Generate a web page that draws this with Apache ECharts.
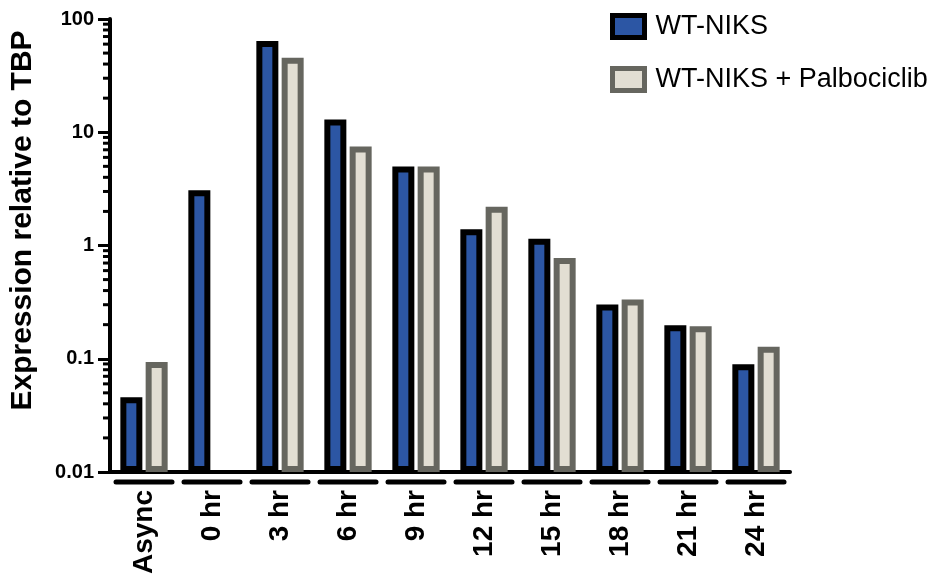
<!DOCTYPE html>
<html>
<head>
<meta charset="utf-8">
<script src="https://cdn.jsdelivr.net/npm/echarts@6/dist/echarts.min.js"></script>
<style>
  html, body { margin: 0; padding: 0; background: #fff; }
  #chart { width: 941px; height: 579px; }
</style>
</head>
<body>
<div id="chart"></div>
<script>
// categories + values (log scale)
var categories = ['Async', '0 hr', '3 hr', '6 hr', '9 hr', '12 hr', '15 hr', '18 hr', '21 hr', '24 hr'];
var wtNiks = [0.043, 2.9, 60, 12.2, 4.7, 1.31, 1.08, 0.284, 0.186, 0.084];
var wtPalbo = [0.088, null, 42.7, 7.05, 4.7, 2.07, 0.73, 0.314, 0.182, 0.12];
var minorTickValues = [];
[0.01, 0.1, 1, 10].forEach(function (d) {
  for (var k = 2; k <= 9; k++) minorTickValues.push(+(k * d).toPrecision(2));
});

var FONT = '"Liberation Sans", Arial, sans-serif';
var BLUE = '#2c56a4', BEIGE = '#e2ded3', GREY = '#66665f';
var chart = echarts.init(document.getElementById('chart'));

// bars on a log axis start at 1 in echarts, so draw them from the axis min
function barSeries(name, values, offset, fill, stroke) {
  return {
    name: name,
    type: 'custom',
    itemStyle: { color: fill, borderColor: stroke, borderWidth: 6 },
    data: values.map(function (v, i) { return v == null ? [i, '-'] : [i, v]; }),
    renderItem: function (params, api) {
      var v = api.value(1);
      if (v == null || isNaN(v)) return null;
      var top = api.coord([api.value(0), v]);
      var base = api.coord([api.value(0), 0.01]);
      var w = 16;
      return {
        type: 'rect',
        shape: { x: top[0] + offset - w / 2, y: top[1], width: w, height: base[1] - top[1] - 3 },
        style: { fill: fill, stroke: stroke, lineWidth: 6 }
      };
    }
  };
}

var option = {
  animation: false,
  textStyle: { fontFamily: FONT },
  grid: { left: 106, top: 19, width: 684, height: 453, containLabel: false },
  legend: {
    data: [
      { name: 'WT-NIKS', itemStyle: { color: BLUE, borderColor: '#000', borderWidth: 5 } },
      { name: 'WT-NIKS + Palbociclib', itemStyle: { color: BEIGE, borderColor: GREY, borderWidth: 5 } }
    ],
    icon: 'rect',
    orient: 'vertical',
    left: 605,
    top: 8,
    itemWidth: 32,
    itemHeight: 22,
    itemGap: 26,
    textStyle: { fontSize: 27, color: '#000', fontFamily: FONT, padding: [0, 0, 0, 6] }
  },
  xAxis: {
    type: 'category',
    data: categories,
    axisLine: { lineStyle: { color: '#000', width: 4 } },
    axisTick: { show: false },
    axisLabel: {
      rotate: 90,
      margin: 18,
      fontSize: 28,
      fontWeight: 'bold',
      color: '#000',
      fontFamily: FONT
    }
  },
  yAxis: {
    type: 'log',
    logBase: 10,
    min: 0.01,
    max: 100,
    name: 'Expression relative to TBP',
    nameLocation: 'middle',
    nameGap: 72,
    nameTextStyle: {
      fontSize: 30, fontWeight: 'bold', color: '#000', fontFamily: FONT,
      padding: [0, 0, 0, 50]
    },
    axisLine: { show: true, lineStyle: { color: '#000', width: 4 } },
    axisTick: { show: true, length: 12, lineStyle: { color: '#000', width: 3 } },
    axisLabel: {
      margin: 16,
      fontSize: 20,
      fontWeight: 'bold',
      color: '#000',
      fontFamily: FONT
    },
    splitLine: { show: false }
  },
  series: [
    barSeries('WT-NIKS', wtNiks, -12.65, BLUE, '#000'),
    barSeries('WT-NIKS + Palbociclib', wtPalbo, 12.65, BEIGE, GREY),
    {
      // minor log ticks (2..9 per decade)
      type: 'custom',
      silent: true,
      clip: false,
      data: minorTickValues.map(function (v) { return [0, v]; }),
      renderItem: function (params, api) {
        var y = api.coord([0, api.value(1)])[1];
        var x = params.coordSys.x;
        return {
          type: 'line',
          shape: { x1: x - 7, y1: y, x2: x, y2: y },
          style: { stroke: '#000', lineWidth: 3 }
        };
      }
    },
    {
      // group underline below each category
      type: 'custom',
      silent: true,
      clip: false,
      data: categories.map(function (c, i) { return [i, 1]; }),
      renderItem: function (params, api) {
        var cs = params.coordSys;
        var bw = cs.width / categories.length;
        var cx = api.coord([api.value(0), 1])[0];
        var y = cs.y + cs.height + 10;
        return {
          type: 'line',
          shape: { x1: cx - bw / 2 + 6, y1: y, x2: cx + bw / 2 - 6, y2: y },
          style: { stroke: '#000', lineWidth: 5, lineCap: 'round' }
        };
      }
    }
  ]
};

chart.setOption(option);
</script>
</body>
</html>
